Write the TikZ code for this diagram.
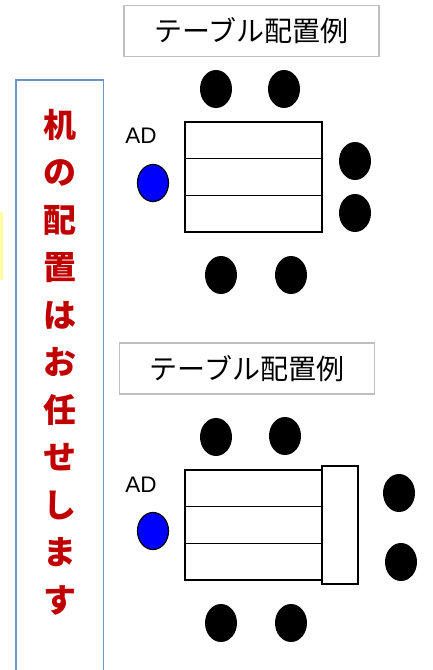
\documentclass[tikz,border=0pt]{standalone}
\usepackage{fontspec}
\setmainfont{Liberation Sans}
\newfontfamily\jpfont{Noto Sans CJK JP}
\usepackage{tikz}
\usetikzlibrary{positioning, shapes.geometric}
\definecolor{framegray}{RGB}{191,191,191}
\definecolor{noteblue}{RGB}{108,148,200}
\definecolor{notered}{RGB}{192,0,0}
\definecolor{notewash}{RGB}{255,255,160}
\tikzstyle{chair} = [ellipse, fill=black, minimum width=32pt, minimum height=38pt, inner sep=0pt]
\tikzstyle{adseat} = [ellipse, draw=black, line width=1.2pt, fill=blue, minimum width=31pt, minimum height=37pt, inner sep=0pt]
\tikzstyle{desk} = [rectangle, draw=black, line width=1.6pt, minimum width=137pt, minimum height=36.7pt, inner sep=0pt, outer sep=0pt]
\tikzstyle{sidedesk} = [rectangle, draw=black, line width=1.6pt, minimum width=36pt, minimum height=118pt, inner sep=0pt, outer sep=0pt]
\tikzstyle{titlebox} = [rectangle, draw=framegray, line width=1.5pt, minimum width=255pt, minimum height=51pt, font=\jpfont\fontsize{28}{30}\selectfont]
\tikzstyle{adlabel} = [inner sep=0pt, font=\fontsize{22.5}{24}\selectfont]

\begin{document}
\begin{tikzpicture}[x=1pt, y=-1pt]
  \useasboundingbox (0,0) rectangle (432,670);

  % Side note
  \fill[notewash] (0,212) rectangle (3,280);
  \node[draw=noteblue, line width=1.2pt, minimum width=87.5pt, minimum height=600pt] (note) at (59.75,380) {};
  \node[align=center, text=notered, inner sep=0pt, font=\jpfont\bfseries\fontsize{33}{47.5}\selectfont] (notetext) at (60,362)
    {机\\の\\配\\置\\は\\お\\任\\せ\\し\\ま\\す};

  % First table
  \node[titlebox] (title1) at (251.5,31) {テーブル配置例};
  \node[desk] (a1) at (253.5,140.3) {};
  \node[desk, below=0pt of a1] (a2) {};
  \node[desk, below=0pt of a2] (a3) {};
  \node[chair] (a4) at (216,89) {};
  \node[chair] (a5) at (284,89) {};
  \node[chair] (a6) at (355,161) {};
  \node[chair] (a7) at (355,213) {};
  \node[chair] (a8) at (221,275) {};
  \node[chair] (a9) at (291,275) {};
  \node[adseat] (ad1) at (153,183) {};
  \node[adlabel] (adl1) at (141,136) {AD};

  % Second table
  \node[titlebox] (title2) at (247,368.5) {テーブル配置例};
  \node[desk] (b1) at (253.5,488.3) {};
  \node[desk, below=0pt of b1] (b2) {};
  \node[desk, below=0pt of b2] (b3) {};
  \node[sidedesk, right=0pt of b2] (b4) {};
  \node[chair] (b5) at (216,437) {};
  \node[chair] (b6) at (285,436) {};
  \node[chair] (b7) at (399,493) {};
  \node[chair] (b8) at (401,562) {};
  \node[chair] (b9) at (221,623) {};
  \node[chair] (b10) at (291,623) {};
  \node[adseat] (ad2) at (153,531) {};
  \node[adlabel] (adl2) at (141,485) {AD};
\end{tikzpicture}
\end{document}
